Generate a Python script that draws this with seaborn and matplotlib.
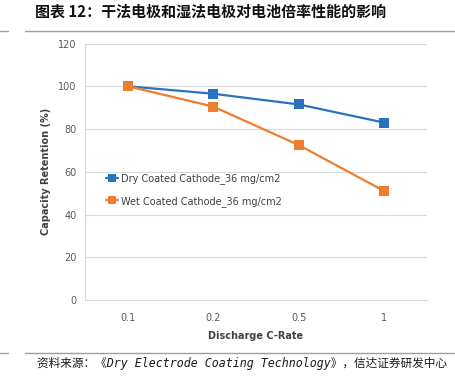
import matplotlib
matplotlib.use("Agg")
import matplotlib.pyplot as plt
import seaborn as sns
import pandas as pd
from matplotlib.lines import Line2D

rates = ["0.1", "0.2", "0.5", "1"]
dry_values = [100, 96.5, 91.5, 83]
wet_values = [100, 90.5, 72.5, 51]
series_names = ["Dry Coated Cathode_36 mg/cm2", "Wet Coated Cathode_36 mg/cm2"]
y_ticks = [0, 20, 40, 60, 80, 100, 120]
title_text = "图表 12：干法电极和湿法电极对电池倍率性能的影响"
source_text = "资料来源：《Dry Electrode Coating Technology》，信达证券研发中心"

sns.set_theme(style="white")
plt.rcParams['font.family'] = ['DejaVu Sans', 'Noto Sans CJK SC']

df = pd.DataFrame({
    "rate": rates * 2,
    "value": dry_values + wet_values,
    "series": [series_names[0]] * len(rates) + [series_names[1]] * len(rates),
})

fig = plt.figure(figsize=(4.55, 3.8), dpi=100)
ax = fig.add_axes([0.187, 0.2105, 0.751, 0.675])

palette = {series_names[0]: "#2A72C0", series_names[1]: "#EE7D2E"}
sns.lineplot(data=df, x="rate", y="value", hue="series", palette=palette,
             marker="s", markersize=6.5, markeredgewidth=0, linewidth=1.6,
             ax=ax, legend=False, sort=False)

ax.set_xlim(-0.5, 3.5)
ax.set_ylim(0, 120)
ax.set_yticks(y_ticks)
ax.set_xticks(range(len(rates)))
ax.set_xticklabels(rates)
ax.set_xticks([i - 0.5 for i in range(len(rates) + 1)], minor=True)
ax.tick_params(axis="y", which="major", length=0, labelsize=7, colors="#595959", pad=6)
ax.tick_params(axis="x", which="major", length=0, labelsize=7, colors="#595959", pad=9)
ax.tick_params(axis="x", which="minor", length=3, color="#d9d9d9", direction="in")
ax.yaxis.grid(True, color="#d9d9d9", linewidth=0.8)
ax.set_axisbelow(True)
for s in ["top", "right"]:
    ax.spines[s].set_visible(False)
for s in ["left", "bottom"]:
    ax.spines[s].set_color("#d9d9d9")
    ax.spines[s].set_linewidth(0.8)

ax.set_xlabel("Discharge C-Rate", fontsize=7, fontweight="bold", color="#404040", labelpad=6)
ax.set_ylabel("Capacity Retention (%)", fontsize=7, fontweight="bold", color="#404040", labelpad=5)

handles = [Line2D([], [], color=palette[n], marker="s", markersize=6, markeredgewidth=0, linewidth=1.6)
           for n in series_names]
leg = ax.legend(handles, series_names, loc="upper left", bbox_to_anchor=(0.06, 0.494),
                frameon=False, fontsize=7, handlelength=1.3, handletextpad=0.25,
                labelspacing=1.2, borderpad=0, borderaxespad=0)
for t in leg.get_texts():
    t.set_color("#404040")

fig.text(35 / 455, 1 - 12 / 380, title_text, fontsize=10.8, fontweight="bold",
         family=['Noto Sans CJK SC', 'DejaVu Sans'], va="center", ha="left", color="#111111")
line_color = "#8EA0BC"
fig.add_artist(Line2D([25 / 455, 1.0], [1 - 30.5 / 380] * 2, color=line_color, linewidth=1.0))
fig.add_artist(Line2D([0, 8 / 455], [1 - 30.5 / 380] * 2, color=line_color, linewidth=1.0))
fig.add_artist(Line2D([25 / 455, 1.0], [1 - 352.5 / 380] * 2, color=line_color, linewidth=1.0))
fig.add_artist(Line2D([0, 8 / 455], [1 - 352.5 / 380] * 2, color=line_color, linewidth=1.0))
fig.text(37 / 455, 1 - 363 / 380, source_text, fontsize=8.4, style="italic",
         family=['DejaVu Sans Mono', 'Noto Sans CJK SC'], va="center", ha="left", color="#1a1a1a")

fig.savefig("out.png", dpi=100, facecolor="white")
